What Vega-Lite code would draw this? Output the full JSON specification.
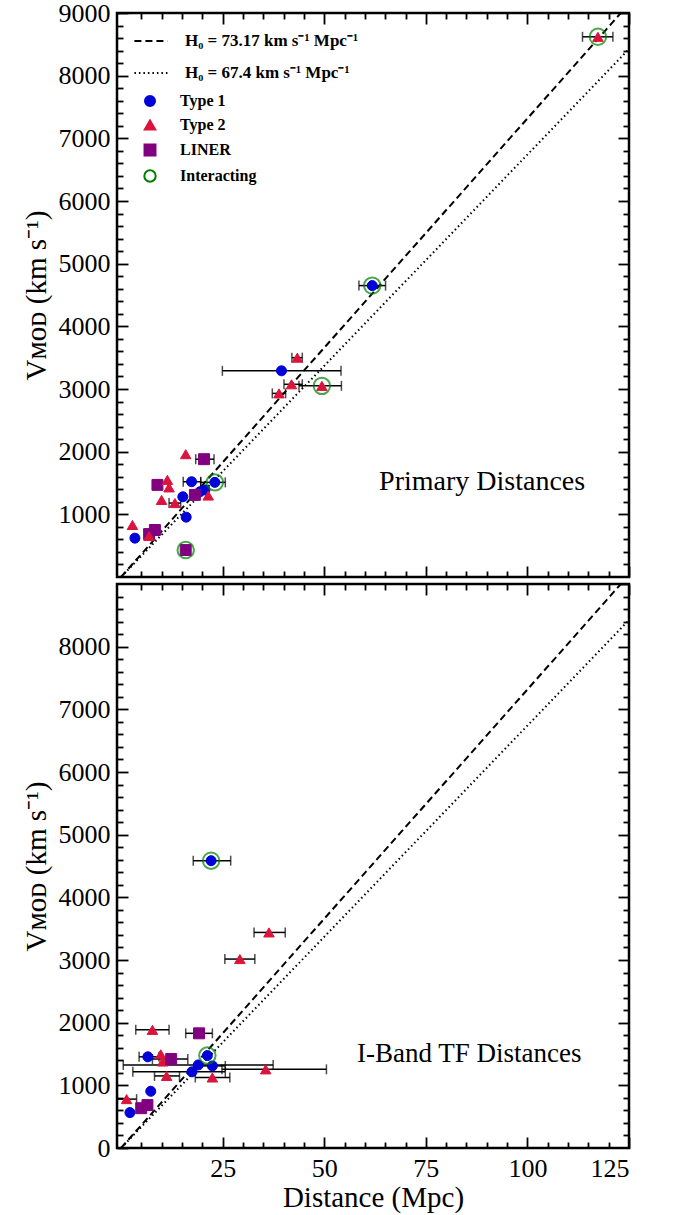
{
  "$schema": "https://vega.github.io/schema/vega-lite/v6.json",
  "padding": {"left": 20, "top": -2, "right": 5, "bottom": 5},
  "spacing": 1,
  "config": {
    "font": "Liberation Serif",
    "view": {"stroke": "black", "strokeWidth": 2.5},
    "axis": {"grid": false, "domain": false, "tickColor": "black", "tickWidth": 1.8, "labelFont": "Liberation Serif", "labelFontSize": 26, "labelColor": "black", "titleFont": "Liberation Serif", "titleFontSize": 29, "titleFontWeight": "normal", "titleColor": "black"}
  },
  "datasets": {
    "lines": [
      {"model": "H₀ = 73.17 km s⁻¹ Mpc⁻¹", "d": 0, "v": 0},
      {"model": "H₀ = 73.17 km s⁻¹ Mpc⁻¹", "d": 125, "v": 9146},
      {"model": "H₀ = 67.4 km s⁻¹ Mpc⁻¹", "d": 0, "v": 0},
      {"model": "H₀ = 67.4 km s⁻¹ Mpc⁻¹", "d": 125, "v": 8425}
    ],
    "primary": [
      {"d": 117.35, "v": 8620, "type": "Type 2", "inter": true, "lo": 113.56, "hi": 121.04},
      {"d": 61.81, "v": 4650, "type": "Type 1", "inter": true, "lo": 58.54, "hi": 65.09},
      {"d": 43.37, "v": 3500, "type": "Type 2", "inter": false, "lo": 42.04, "hi": 44.6},
      {"d": 39.48, "v": 3290, "type": "Type 1", "inter": false, "lo": 24.93, "hi": 54.13},
      {"d": 41.94, "v": 3075, "type": "Type 2", "inter": false, "lo": 40.09, "hi": 44.6},
      {"d": 49.42, "v": 3050, "type": "Type 2", "inter": true, "lo": 43.78, "hi": 54.23},
      {"d": 38.86, "v": 2930, "type": "Type 2", "inter": false, "lo": 37.22, "hi": 40.5},
      {"d": 15.91, "v": 1960, "type": "Type 2", "inter": false, "lo": null, "hi": null},
      {"d": 20.42, "v": 1880, "type": "LINER", "inter": false, "lo": 18.37, "hi": 22.88},
      {"d": 17.35, "v": 1520, "type": "Type 1", "inter": false, "lo": 15.3, "hi": 19.6},
      {"d": 23.08, "v": 1510, "type": "Type 1", "inter": true, "lo": 19.6, "hi": 25.65},
      {"d": 8.95, "v": 1470, "type": "LINER", "inter": false, "lo": null, "hi": null},
      {"d": 11.4, "v": 1550, "type": "Type 2", "inter": false, "lo": null, "hi": null},
      {"d": 11.81, "v": 1430, "type": "Type 2", "inter": false, "lo": null, "hi": null},
      {"d": 19.4, "v": 1360, "type": "Type 1", "inter": false, "lo": null, "hi": null},
      {"d": 20.63, "v": 1390, "type": "Type 1", "inter": false, "lo": null, "hi": null},
      {"d": 18.17, "v": 1310, "type": "LINER", "inter": false, "lo": null, "hi": null},
      {"d": 21.45, "v": 1300, "type": "Type 2", "inter": false, "lo": null, "hi": null},
      {"d": 15.2, "v": 1280, "type": "Type 1", "inter": false, "lo": null, "hi": null},
      {"d": 9.97, "v": 1230, "type": "Type 2", "inter": false, "lo": null, "hi": null},
      {"d": 13.25, "v": 1180, "type": "Type 2", "inter": false, "lo": 11.81, "hi": 14.68},
      {"d": 16.02, "v": 955, "type": "Type 1", "inter": false, "lo": null, "hi": null},
      {"d": 2.8, "v": 830, "type": "Type 2", "inter": false, "lo": null, "hi": null},
      {"d": 6.9, "v": 685, "type": "LINER", "inter": false, "lo": null, "hi": null},
      {"d": 8.33, "v": 750, "type": "LINER", "inter": false, "lo": null, "hi": null},
      {"d": 6.9, "v": 655, "type": "Type 2", "inter": false, "lo": null, "hi": null},
      {"d": 3.41, "v": 620, "type": "Type 1", "inter": false, "lo": null, "hi": null},
      {"d": 15.91, "v": 430, "type": "LINER", "inter": true, "lo": null, "hi": null}
    ],
    "tf": [
      {"d": 22.16, "v": 4585, "type": "Type 1", "inter": true, "lo": 17.76, "hi": 26.98},
      {"d": 36.4, "v": 3440, "type": "Type 2", "inter": false, "lo": 32.72, "hi": 40.4},
      {"d": 29.23, "v": 3015, "type": "Type 2", "inter": false, "lo": 25.54, "hi": 32.92},
      {"d": 7.72, "v": 1885, "type": "Type 2", "inter": false, "lo": 3.62, "hi": 11.81},
      {"d": 19.19, "v": 1830, "type": "LINER", "inter": false, "lo": 15.91, "hi": 22.47},
      {"d": 6.59, "v": 1455, "type": "Type 1", "inter": false, "lo": 4.44, "hi": 9.36},
      {"d": 9.77, "v": 1495, "type": "Type 2", "inter": false, "lo": null, "hi": null},
      {"d": 10.28, "v": 1380, "type": "Type 2", "inter": false, "lo": null, "hi": null},
      {"d": 12.33, "v": 1420, "type": "LINER", "inter": false, "lo": 7.72, "hi": 16.42},
      {"d": 21.24, "v": 1475, "type": "Type 1", "inter": true, "lo": null, "hi": null},
      {"d": 18.99, "v": 1325, "type": "Type 1", "inter": false, "lo": 0.54, "hi": 37.43},
      {"d": 22.47, "v": 1310, "type": "Type 1", "inter": false, "lo": 18.47, "hi": 25.65},
      {"d": 35.59, "v": 1255, "type": "Type 2", "inter": false, "lo": 24.83, "hi": 50.54},
      {"d": 17.45, "v": 1215, "type": "Type 1", "inter": false, "lo": 2.9, "hi": 25.65},
      {"d": 11.2, "v": 1150, "type": "Type 2", "inter": false, "lo": 8.23, "hi": 14.38},
      {"d": 22.47, "v": 1125, "type": "Type 2", "inter": false, "lo": 18.27, "hi": 26.77},
      {"d": 7.31, "v": 905, "type": "Type 1", "inter": false, "lo": null, "hi": null},
      {"d": 1.36, "v": 780, "type": "Type 2", "inter": false, "lo": -0.9, "hi": 3.82},
      {"d": 6.49, "v": 685, "type": "LINER", "inter": false, "lo": null, "hi": null},
      {"d": 4.95, "v": 635, "type": "LINER", "inter": false, "lo": null, "hi": null},
      {"d": 2.18, "v": 565, "type": "Type 1", "inter": false, "lo": null, "hi": null}
    ]
  },
  "resolve": {"scale": {"shape": "independent", "fill": "independent", "stroke": "independent", "size": "independent", "strokeDash": "independent"}, "legend": {"shape": "independent", "fill": "independent", "stroke": "independent", "size": "independent", "strokeDash": "independent"}},
  "vconcat": [
    {
      "width": 512,
      "height": 564,
      "resolve": {"axis": {"x": "independent", "y": "independent"}},
      "layer": [
        {
          "data": {"name": "lines"},
          "mark": {"type": "line", "clip": true, "color": "black", "strokeWidth": 2},
          "encoding": {
            "x": {"field": "d", "type": "quantitative", "scale": {"domain": [-1, 125], "nice": false, "zero": false}, "axis": {"orient": "bottom", "values": [25, 50, 75, 100, 125], "labels": false, "tickSize": -11, "title": null}},
            "y": {"field": "v", "type": "quantitative", "scale": {"domain": [0, 9000], "nice": false}, "axis": {"orient": "left", "values": [1000, 2000, 3000, 4000, 5000, 6000, 7000, 8000, 9000], "format": "d", "tickSize": -11, "labelPadding": 18, "title": "Vᴍᴏᴅ (km s⁻¹)", "titlePadding": 7}},
            "strokeDash": {"field": "model", "type": "nominal", "scale": {"domain": ["H₀ = 73.17 km s⁻¹ Mpc⁻¹", "H₀ = 67.4 km s⁻¹ Mpc⁻¹"], "range": [[7, 4], [1.5, 3]]}, "legend": {"orient": "none", "legendX": 16, "legendY": 10, "title": null, "symbolType": "stroke", "symbolStrokeColor": "black", "symbolStrokeWidth": 2, "symbolSize": 1100, "labelFont": "Liberation Serif", "labelFontWeight": "bold", "labelFontSize": 17, "labelColor": "black", "labelOffset": 16, "labelLimit": 400, "rowPadding": 6, "padding": 0}}
          }
        },
        {
          "data": {"name": "primary"},
          "transform": [{"filter": "datum.lo != null"}],
          "mark": {"type": "rule", "color": "black", "strokeWidth": 1.5},
          "encoding": {
            "x": {"field": "lo", "type": "quantitative", "axis": {"orient": "top", "values": [25, 50, 75, 100, 125], "labels": false, "tickSize": -11, "title": null}},
            "x2": {"field": "hi"},
            "y": {"field": "v", "type": "quantitative", "axis": {"orient": "right", "values": [1000, 2000, 3000, 4000, 5000, 6000, 7000, 8000, 9000], "labels": false, "tickSize": -11, "title": null}}
          }
        },
        {
          "data": {"name": "primary"},
          "transform": [{"filter": "datum.lo != null"}],
          "mark": {"type": "tick", "orient": "vertical", "color": "black", "thickness": 1.5, "size": 10},
          "encoding": {
            "x": {"field": "lo", "type": "quantitative", "axis": {"orient": "bottom", "values": [5, 10, 15, 20, 30, 35, 40, 45, 55, 60, 65, 70, 80, 85, 90, 95, 105, 110, 115, 120], "labels": false, "tickSize": -6, "title": null}},
            "y": {"field": "v", "type": "quantitative", "axis": {"orient": "left", "values": [200, 400, 600, 800, 1200, 1400, 1600, 1800, 2200, 2400, 2600, 2800, 3200, 3400, 3600, 3800, 4200, 4400, 4600, 4800, 5200, 5400, 5600, 5800, 6200, 6400, 6600, 6800, 7200, 7400, 7600, 7800, 8200, 8400, 8600, 8800], "labels": false, "tickSize": -6, "title": null}}
          }
        },
        {
          "data": {"name": "primary"},
          "transform": [{"filter": "datum.lo != null"}],
          "mark": {"type": "tick", "orient": "vertical", "color": "black", "thickness": 1.5, "size": 10},
          "encoding": {
            "x": {"field": "hi", "type": "quantitative", "axis": {"orient": "top", "values": [5, 10, 15, 20, 30, 35, 40, 45, 55, 60, 65, 70, 80, 85, 90, 95, 105, 110, 115, 120], "labels": false, "tickSize": -6, "title": null}},
            "y": {"field": "v", "type": "quantitative", "axis": {"orient": "right", "values": [200, 400, 600, 800, 1200, 1400, 1600, 1800, 2200, 2400, 2600, 2800, 3200, 3400, 3600, 3800, 4200, 4400, 4600, 4800, 5200, 5400, 5600, 5800, 6200, 6400, 6600, 6800, 7200, 7400, 7600, 7800, 8200, 8400, 8600, 8800], "labels": false, "tickSize": -6, "title": null}}
          }
        },
        {
          "data": {"name": "primary"},
          "mark": {"type": "point", "filled": true, "strokeWidth": 1, "opacity": 1},
          "encoding": {
            "x": {"field": "d", "type": "quantitative", "axis": null},
            "y": {"field": "v", "type": "quantitative", "axis": null},
            "shape": {"field": "type", "type": "nominal", "scale": {"domain": ["Type 1", "Type 2", "LINER", "Interacting"], "range": ["circle", "triangle-up", "square", "circle"]}, "legend": {"orient": "none", "legendX": 25, "legendY": 80, "title": null, "symbolStrokeWidth": 2, "labelFont": "Liberation Serif", "labelFontWeight": "bold", "labelFontSize": 16, "labelColor": "black", "labelOffset": 22, "rowPadding": 6, "padding": 0}},
            "fill": {"field": "type", "type": "nominal", "scale": {"domain": ["Type 1", "Type 2", "LINER", "Interacting"], "range": ["#0000d8", "#dc143c", "#800080", "transparent"]}, "legend": {"orient": "none", "legendX": 25, "legendY": 80, "title": null}},
            "stroke": {"field": "type", "type": "nominal", "scale": {"domain": ["Type 1", "Type 2", "LINER", "Interacting"], "range": ["#0000d8", "#dc143c", "#800080", "#008000"]}, "legend": {"orient": "none", "legendX": 25, "legendY": 80, "title": null}},
            "size": {"field": "type", "type": "nominal", "scale": {"domain": ["Type 1", "Type 2", "LINER", "Interacting"], "range": [100, 130, 100, 170]}, "legend": {"orient": "none", "legendX": 25, "legendY": 80, "title": null}}
          }
        },
        {
          "data": {"name": "primary"},
          "transform": [{"filter": "datum.inter"}],
          "mark": {"type": "point", "filled": false, "strokeWidth": 2},
          "encoding": {
            "x": {"field": "d", "type": "quantitative", "axis": null},
            "y": {"field": "v", "type": "quantitative", "axis": null},
            "shape": {"datum": "Interacting"},
            "fill": {"datum": "Interacting"},
            "stroke": {"datum": "Interacting"},
            "size": {"value": 270}
          }
        },
        {
          "data": {"values": [{"label": "Primary Distances"}]},
          "mark": {"type": "text", "font": "Liberation Serif", "fontSize": 28, "color": "black"},
          "encoding": {
            "x": {"datum": 88.86, "type": "quantitative", "axis": null},
            "y": {"datum": 1516, "type": "quantitative", "axis": null},
            "text": {"field": "label"}
          }
        }
      ]
    },
    {
      "width": 512,
      "height": 564,
      "resolve": {"axis": {"x": "independent", "y": "independent"}},
      "layer": [
        {
          "data": {"name": "lines"},
          "mark": {"type": "line", "clip": true, "color": "black", "strokeWidth": 2},
          "encoding": {
            "x": {"field": "d", "type": "quantitative", "scale": {"domain": [-1, 125], "nice": false, "zero": false}, "axis": {"orient": "bottom", "values": [25, 50, 75, 100, 125], "format": "d", "tickSize": -11, "labelPadding": 18, "title": "Distance (Mpc)", "titlePadding": 2}},
            "y": {"field": "v", "type": "quantitative", "scale": {"domain": [0, 9000], "nice": false}, "axis": {"orient": "left", "values": [0, 1000, 2000, 3000, 4000, 5000, 6000, 7000, 8000], "format": "d", "tickSize": -11, "labelPadding": 18, "title": "Vᴍᴏᴅ (km s⁻¹)", "titlePadding": 7}},
            "strokeDash": {"field": "model", "type": "nominal", "scale": {"domain": ["H₀ = 73.17 km s⁻¹ Mpc⁻¹", "H₀ = 67.4 km s⁻¹ Mpc⁻¹"], "range": [[7, 4], [1.5, 3]]}, "legend": null}
          }
        },
        {
          "data": {"name": "tf"},
          "transform": [{"filter": "datum.lo != null"}],
          "mark": {"type": "rule", "color": "black", "strokeWidth": 1.5},
          "encoding": {
            "x": {"field": "lo", "type": "quantitative", "axis": {"orient": "top", "values": [25, 50, 75, 100, 125], "labels": false, "tickSize": -11, "title": null}},
            "x2": {"field": "hi"},
            "y": {"field": "v", "type": "quantitative", "axis": {"orient": "right", "values": [1000, 2000, 3000, 4000, 5000, 6000, 7000, 8000, 9000], "labels": false, "tickSize": -11, "title": null}}
          }
        },
        {
          "data": {"name": "tf"},
          "transform": [{"filter": "datum.lo != null"}],
          "mark": {"type": "tick", "orient": "vertical", "color": "black", "thickness": 1.5, "size": 10},
          "encoding": {
            "x": {"field": "lo", "type": "quantitative", "axis": {"orient": "bottom", "values": [5, 10, 15, 20, 30, 35, 40, 45, 55, 60, 65, 70, 80, 85, 90, 95, 105, 110, 115, 120], "labels": false, "tickSize": -6, "title": null}},
            "y": {"field": "v", "type": "quantitative", "axis": {"orient": "left", "values": [200, 400, 600, 800, 1200, 1400, 1600, 1800, 2200, 2400, 2600, 2800, 3200, 3400, 3600, 3800, 4200, 4400, 4600, 4800, 5200, 5400, 5600, 5800, 6200, 6400, 6600, 6800, 7200, 7400, 7600, 7800, 8200, 8400, 8600, 8800], "labels": false, "tickSize": -6, "title": null}}
          }
        },
        {
          "data": {"name": "tf"},
          "transform": [{"filter": "datum.lo != null"}],
          "mark": {"type": "tick", "orient": "vertical", "color": "black", "thickness": 1.5, "size": 10},
          "encoding": {
            "x": {"field": "hi", "type": "quantitative", "axis": {"orient": "top", "values": [5, 10, 15, 20, 30, 35, 40, 45, 55, 60, 65, 70, 80, 85, 90, 95, 105, 110, 115, 120], "labels": false, "tickSize": -6, "title": null}},
            "y": {"field": "v", "type": "quantitative", "axis": {"orient": "right", "values": [200, 400, 600, 800, 1200, 1400, 1600, 1800, 2200, 2400, 2600, 2800, 3200, 3400, 3600, 3800, 4200, 4400, 4600, 4800, 5200, 5400, 5600, 5800, 6200, 6400, 6600, 6800, 7200, 7400, 7600, 7800, 8200, 8400, 8600, 8800], "labels": false, "tickSize": -6, "title": null}}
          }
        },
        {
          "data": {"name": "tf"},
          "mark": {"type": "point", "filled": true, "strokeWidth": 1, "opacity": 1},
          "encoding": {
            "x": {"field": "d", "type": "quantitative", "axis": null},
            "y": {"field": "v", "type": "quantitative", "axis": null},
            "shape": {"field": "type", "type": "nominal", "scale": {"domain": ["Type 1", "Type 2", "LINER", "Interacting"], "range": ["circle", "triangle-up", "square", "circle"]}, "legend": null},
            "fill": {"field": "type", "type": "nominal", "scale": {"domain": ["Type 1", "Type 2", "LINER", "Interacting"], "range": ["#0000d8", "#dc143c", "#800080", "transparent"]}, "legend": null},
            "stroke": {"field": "type", "type": "nominal", "scale": {"domain": ["Type 1", "Type 2", "LINER", "Interacting"], "range": ["#0000d8", "#dc143c", "#800080", "#008000"]}, "legend": null},
            "size": {"field": "type", "type": "nominal", "scale": {"domain": ["Type 1", "Type 2", "LINER", "Interacting"], "range": [100, 130, 100, 170]}, "legend": null}
          }
        },
        {
          "data": {"name": "tf"},
          "transform": [{"filter": "datum.inter"}],
          "mark": {"type": "point", "filled": false, "strokeWidth": 2},
          "encoding": {
            "x": {"field": "d", "type": "quantitative", "axis": null},
            "y": {"field": "v", "type": "quantitative", "axis": null},
            "shape": {"datum": "Interacting"},
            "fill": {"datum": "Interacting"},
            "stroke": {"datum": "Interacting"},
            "size": {"value": 270}
          }
        },
        {
          "data": {"values": [{"label": "I-Band TF Distances"}]},
          "mark": {"type": "text", "font": "Liberation Serif", "fontSize": 27, "color": "black"},
          "encoding": {
            "x": {"datum": 85.69, "type": "quantitative", "axis": null},
            "y": {"datum": 1500, "type": "quantitative", "axis": null},
            "text": {"field": "label"}
          }
        }
      ]
    }
  ]
}
